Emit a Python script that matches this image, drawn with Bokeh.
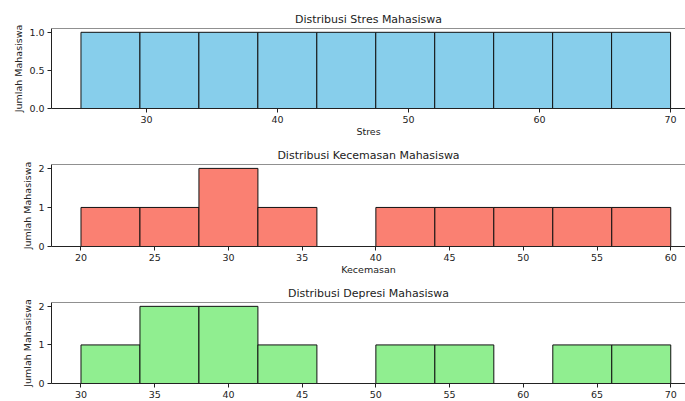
from bokeh.plotting import figure
from bokeh.layouts import column
from bokeh.models import Range1d, FixedTicker, Span, PrintfTickFormatter
from bokeh.embed import file_html
from bokeh.resources import INLINE

# Histogram bins (edges) and counts per bin
stres_edges = [25.0, 29.5, 34.0, 38.5, 43.0, 47.5, 52.0, 56.5, 61.0, 65.5, 70.0]
stres_counts = [1, 1, 1, 1, 1, 1, 1, 1, 1, 1]

kecemasan_edges = [20, 24, 28, 32, 36, 40, 44, 48, 52, 56, 60]
kecemasan_counts = [1, 1, 2, 1, 0, 1, 1, 1, 1, 1]

depresi_edges = [30, 34, 38, 42, 46, 50, 54, 58, 62, 66, 70]
depresi_counts = [1, 2, 2, 1, 0, 1, 1, 0, 1, 1]

# Tick positions
stres_xticks = [30, 40, 50, 60, 70]
stres_yticks = [0, 0.5, 1.0]
kecemasan_xticks = [20, 25, 30, 35, 40, 45, 50, 55, 60]
depresi_xticks = [30, 35, 40, 45, 50, 55, 60, 65, 70]
count_yticks = [0, 1, 2]

FONT = "DejaVu Sans"
TEXT = "#222222"


def hist_panel(title, edges, counts, color, xlabel, xticks, yticks, yfmt,
               height, border_top, border_bottom, x_end):
    lo, hi = edges[0], edges[-1]
    pad = 0.05 * (hi - lo)
    ymax = max(counts) * 1.05
    p = figure(width=685, height=height, title=title,
               x_range=Range1d(lo - pad, x_end), y_range=Range1d(0, ymax),
               output_backend="svg", toolbar_location=None,
               min_border_left=51, min_border_right=0,
               min_border_top=border_top, min_border_bottom=border_bottom)
    p.quad(left=edges[:-1], right=edges[1:], top=counts, bottom=0,
           fill_color=color, line_color="#111111", line_width=1)

    p.outline_line_color = None
    p.add_layout(Span(location=ymax, dimension="width",
                      line_color=TEXT, line_width=1))
    p.xgrid.visible = False
    p.ygrid.visible = False
    p.background_fill_color = "white"
    p.border_fill_color = "white"

    p.title.text_font = FONT
    p.title.text_font_size = "11px"
    p.title.text_font_style = "normal"
    p.title.text_color = TEXT
    p.title.align = "center"
    p.title.offset = 7
    p.title.standoff = 5

    for ax in (p.xaxis[0], p.yaxis[0]):
        ax.axis_line_color = TEXT
        ax.major_tick_line_color = TEXT
        ax.major_tick_out = 4
        ax.major_tick_in = 0
        ax.minor_tick_line_color = None
        ax.major_label_text_font = FONT
        ax.major_label_text_font_size = "9.5px"
        ax.major_label_text_color = TEXT
        ax.major_label_standoff = 3
        ax.axis_label_text_font = FONT
        ax.axis_label_text_font_size = "9.5px"
        ax.axis_label_text_font_style = "normal"
        ax.axis_label_text_color = TEXT

    p.xaxis.axis_label_standoff = 0
    p.yaxis.axis_label_standoff = 2
    p.xaxis.ticker = FixedTicker(ticks=xticks)
    p.yaxis.ticker = FixedTicker(ticks=yticks)
    p.yaxis.formatter = PrintfTickFormatter(format=yfmt)
    if xlabel:
        p.xaxis.axis_label = xlabel
    p.yaxis.axis_label = "Jumlah Mahasiswa"
    return p


p1 = hist_panel("Distribusi Stres Mahasiswa", stres_edges, stres_counts,
                "#87CEEB", "Stres", stres_xticks, stres_yticks, "%.1f",
                140, 28, 32, 71.14)
p2 = hist_panel("Distribusi Kecemasan Mahasiswa", kecemasan_edges,
                kecemasan_counts, "#FA8072", "Kecemasan", kecemasan_xticks,
                count_yticks, "%d", 138, 24, 32, 61.0)
p3 = hist_panel("Distribusi Depresi Mahasiswa", depresi_edges,
                depresi_counts, "#90EE90", None, depresi_xticks,
                count_yticks, "%d", 123, 24, 18, 71.0)

layout = column(p1, p2, p3, spacing=0)
open("out.html", "w").write(file_html(layout, INLINE))
